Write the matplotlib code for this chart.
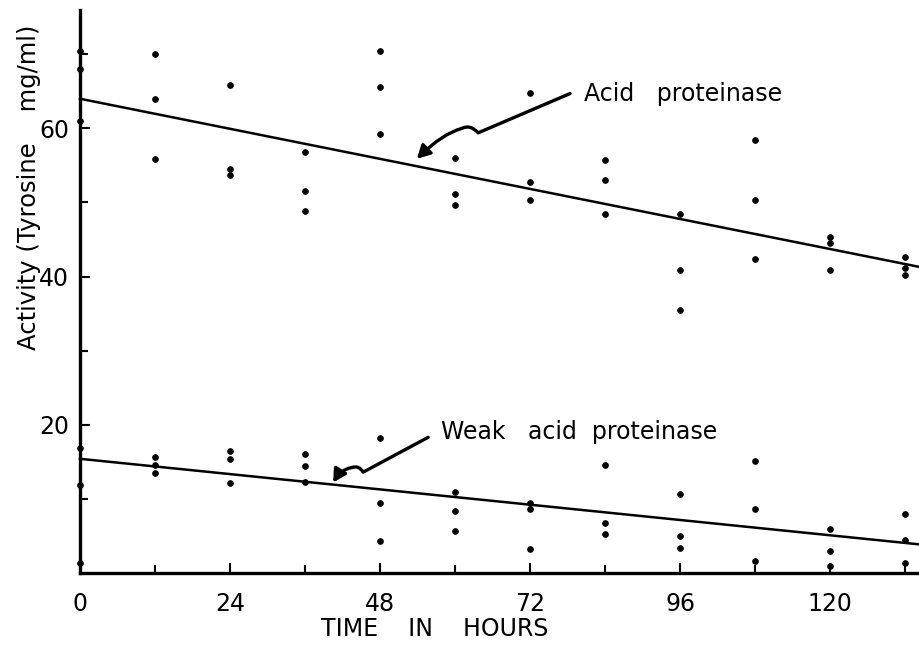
import numpy as np
import matplotlib
matplotlib.use("Agg")
import matplotlib.pyplot as plt
from matplotlib.path import Path
from matplotlib.patches import FancyArrowPatch

plt.rcParams['font.family'] = ['DejaVu Sans']

# ---- data ----
hours = [0, 12, 24, 36, 48, 60, 72, 84, 96, 108, 120, 132]
acid_values = [
    [70.5, 68.0, 61.0],
    [70.0, 63.9, 55.9],
    [65.9, 54.5, 53.7],
    [56.8, 51.6, 48.9],
    [70.5, 65.6, 59.3],
    [56.0, 51.1, 49.7],
    [64.8, 52.7, 50.3],
    [55.8, 53.0, 48.4],
    [48.5, 40.9, 35.5],
    [58.5, 50.3, 42.4],
    [45.3, 44.5, 40.9],
    [42.7, 41.2, 40.2],
]
weak_values = [
    [16.8, 11.8, 1.3],
    [15.7, 14.5, 13.5],
    [16.4, 15.4, 12.2],
    [16.0, 14.4, 12.3],
    [18.2, 9.4, 4.3],
    [10.9, 8.3, 5.7],
    [9.5, 8.6, 3.2],
    [14.6, 6.8, 5.3],
    [10.6, 5.0, 3.4],
    [15.1, 8.6, 1.6],
    [5.9, 2.9, 0.9],
    [7.9, 4.5, 1.3],
]
# fitted lines: (intercept, slope)
acid_line = (64.0, -0.169)
weak_line = (15.4, -0.086)

xticks = [0, 24, 48, 72, 96, 120]
yticks = [20, 40, 60]
xlim = (0, 134.4)
ylim = (0, 76)

fig = plt.figure(figsize=(9.2, 6.57), dpi=100)
ax = fig.add_axes([0.087, 0.128, 0.913, 0.857])

for vals, line in ((acid_values, acid_line), (weak_values, weak_line)):
    xs = np.repeat(hours, [len(v) for v in vals])
    ys = np.concatenate(vals)
    ax.plot(xs, ys, 'o', color='black', markersize=3.8, clip_on=False, zorder=3)
    lx = np.array(xlim)
    ax.plot(lx, line[0] + line[1] * lx, color='black', lw=1.8, clip_on=False)

ax.set_xlim(*xlim)
ax.set_ylim(*ylim)

for s in ('top', 'right'):
    ax.spines[s].set_visible(False)
for s in ('left', 'bottom'):
    ax.spines[s].set_linewidth(2.4)

ax.set_xticks(np.arange(0, 133, 12), minor=True)
ax.set_xticks(xticks)
ax.set_yticks(np.arange(10, 71, 10), minor=True)
ax.set_yticks(yticks)
ax.tick_params(axis='both', which='both', direction='in', width=1.5, labelsize=17)
ax.tick_params(axis='both', which='major', length=7)
ax.tick_params(axis='both', which='minor', length=6)
ax.tick_params(axis='x', which='major', pad=14)
ax.tick_params(axis='y', which='major', pad=8)

ax.text(-0.061, 52, 'Activity (Tyrosine    mg/ml)', rotation=90, fontsize=17.5,
        ha='center', va='center', transform=ax.get_yaxis_transform())
fig.text(0.473, 0.042, 'TIME    IN    HOURS', fontsize=17, ha='center', va='center')

ax.text(80.7, 64.7, 'Acid   proteinase', fontsize=17, ha='left', va='center')
ax.text(57.8, 19.0, 'Weak   acid  proteinase', fontsize=17, ha='left', va='center')

# curly annotation arrows
acid_arrow = [(78.4, 64.7), (63.7, 59.4), (62.4, 60.6), (61.1, 60.0), (58.0, 59.3), (53.9, 55.9)]
weak_arrow = [(55.7, 18.3), (45.3, 13.6), (44.6, 14.6), (43.4, 14.2), (41.8, 14.0), (40.5, 12.2)]
for pts in (acid_arrow, weak_arrow):
    codes = [Path.MOVETO, Path.LINETO, Path.CURVE3, Path.CURVE3, Path.CURVE3, Path.CURVE3]
    p = Path(pts, codes)
    arr = FancyArrowPatch(path=p, arrowstyle='-|>,head_length=0.55,head_width=0.3',
                          mutation_scale=14, color='black', lw=2.4,
                          transform=ax.transData)
    ax.add_patch(arr)

fig.savefig('out.png', dpi=100)
